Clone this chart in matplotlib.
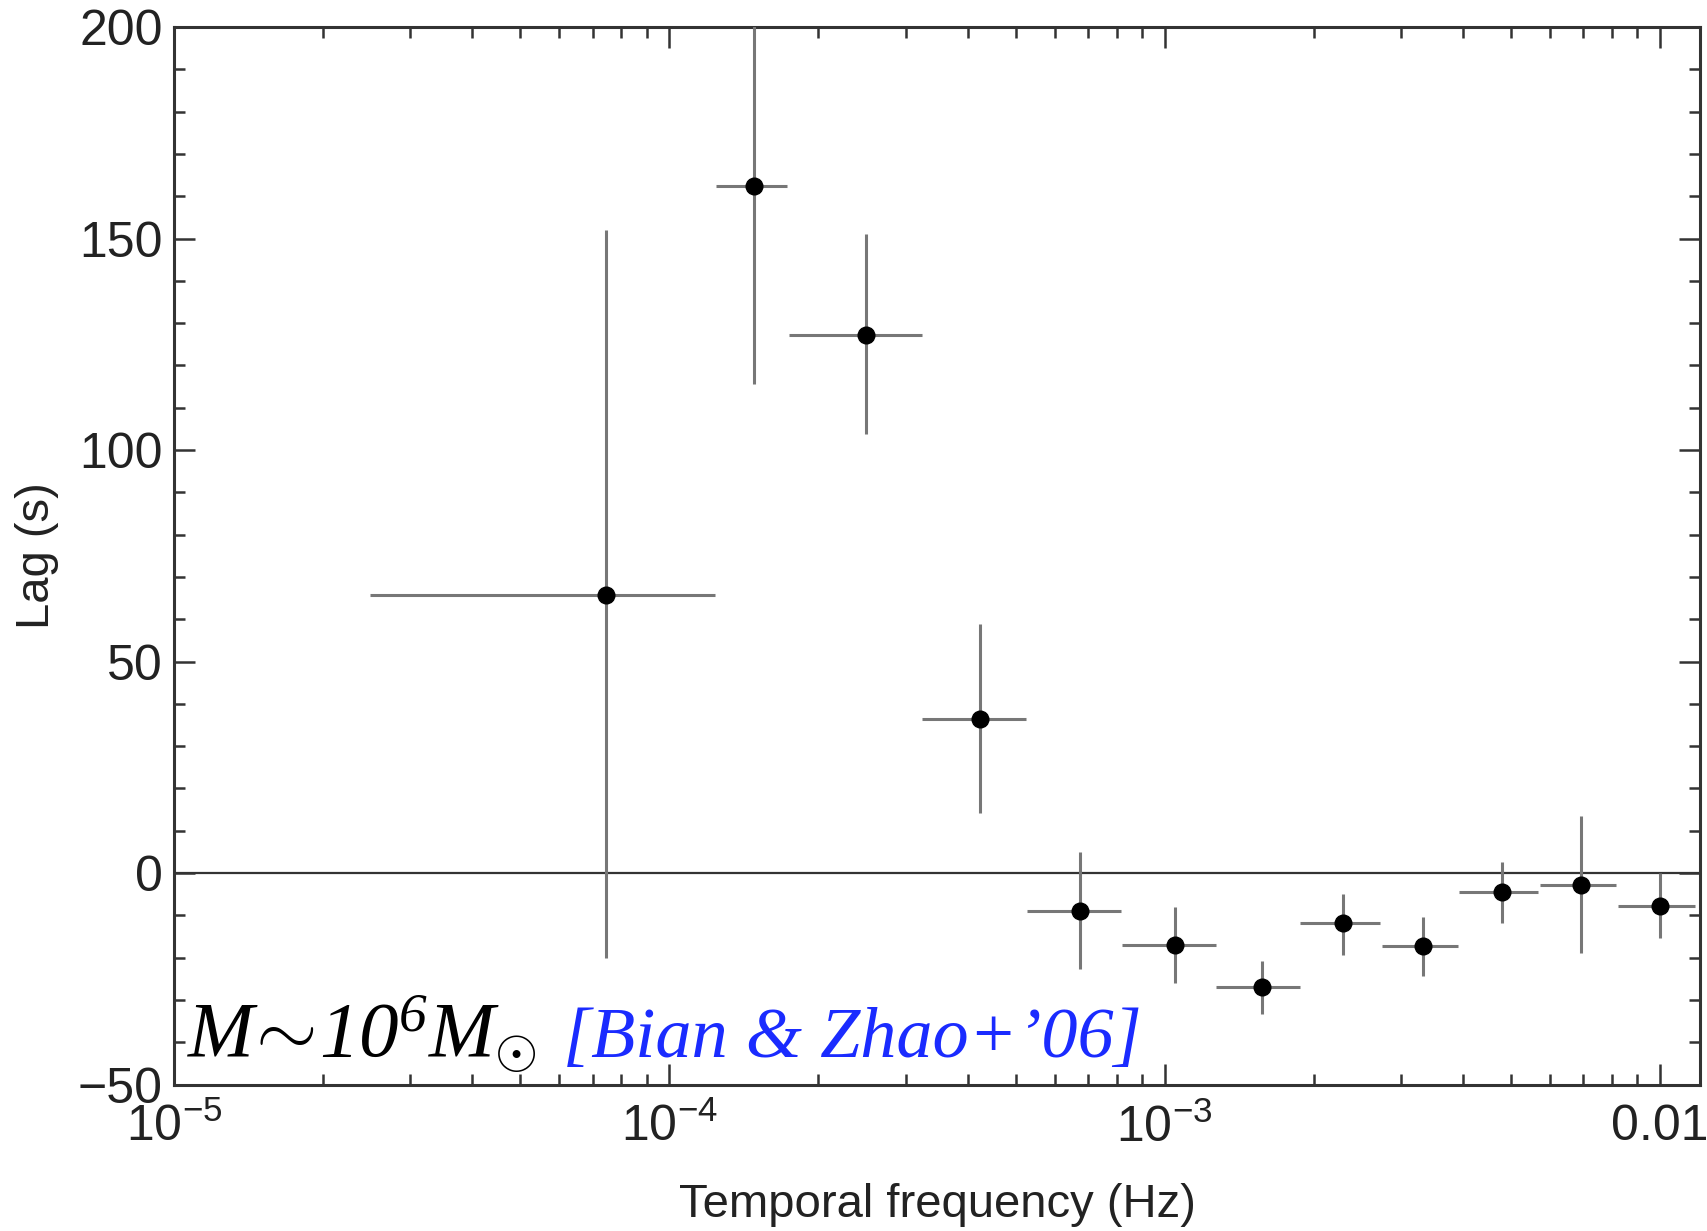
import matplotlib
matplotlib.use("Agg")
import matplotlib.pyplot as plt
import numpy as np
from matplotlib.ticker import LogLocator, MultipleLocator, FixedLocator, NullFormatter

plt.rcParams['font.family'] = ['Liberation Sans', 'DejaVu Sans']
plt.rcParams['mathtext.fontset'] = 'custom'
plt.rcParams['mathtext.rm'] = 'Liberation Serif:italic'
plt.rcParams['mathtext.it'] = 'Liberation Serif:italic'
plt.rcParams['mathtext.sf'] = 'Liberation Sans'

# frequency bins (Hz) and lags (s)
freq = [7.46e-5, 1.48e-4, 2.49e-4, 4.23e-4, 6.75e-4, 1.047e-3,
        1.57e-3, 2.29e-3, 3.32e-3, 4.80e-3, 6.92e-3, 1.0e-2]
f_lo = [2.49e-5, 1.24e-4, 1.74e-4, 3.24e-4, 5.27e-4, 8.2e-4,
        1.27e-3, 1.88e-3, 2.75e-3, 3.93e-3, 5.73e-3, 8.23e-3]
f_hi = [1.236e-4, 1.73e-4, 3.24e-4, 5.24e-4, 8.17e-4, 1.268e-3,
        1.876e-3, 2.72e-3, 3.92e-3, 5.68e-3, 8.17e-3, 1.175e-2]
lag = [65.8, 162.5, 127.3, 36.5, -9.0, -17.0,
       -27.0, -11.8, -17.2, -4.6, -2.8, -7.7]
lag_lo = [-20.0, 115.7, 103.9, 14.1, -22.6, -26.0,
          -33.4, -19.3, -24.4, -11.8, -18.8, -15.4]
lag_hi = [152.0, 215.0, 151.0, 58.9, 4.9, -8.0,
          -20.8, -4.9, -10.3, 2.6, 13.4, 0.0]

freq = np.array(freq)
lag = np.array(lag)
xerr = [freq - np.array(f_lo), np.array(f_hi) - freq]
yerr = [lag - np.array(lag_lo), np.array(lag_hi) - lag]

fig = plt.figure(figsize=(17.07, 12.31), dpi=100)
ax = fig.add_axes([0.102, 0.119, 0.894, 0.859])

ax.axhline(0, color='#333333', lw=1.6, zorder=1)
ax.errorbar(freq, lag, xerr=xerr, yerr=yerr, fmt='o', color='black',
            ms=12, ecolor='#777777', elinewidth=2.2, capsize=0, zorder=3)

ax.set_xscale('log')
ax.set_xlim(1e-5, 1.206e-2)
ax.set_ylim(-50, 200)

ax.xaxis.set_major_locator(FixedLocator([1e-5, 1e-4, 1e-3, 1e-2]))
ax.set_xticklabels([r'$\mathsf{10^{-5}}$', r'$\mathsf{10^{-4}}$',
                    r'$\mathsf{10^{-3}}$', '0.01'])
ax.xaxis.set_minor_locator(LogLocator(base=10, subs=np.arange(2, 10)))
ax.xaxis.set_minor_formatter(NullFormatter())
ax.yaxis.set_major_locator(MultipleLocator(50))
ax.yaxis.set_minor_locator(MultipleLocator(10))

ax.tick_params(which='both', direction='in', top=True, right=True,
               color='#333333', width=1.8)
ax.tick_params(which='major', length=15, labelsize=36, labelcolor='#222222')
ax.tick_params(axis='x', which='major', pad=14)
ax.tick_params(axis='y', which='major', pad=8)
ax.tick_params(which='minor', length=8)
for s in ax.spines.values():
    s.set_linewidth(2.2)
    s.set_color('#333333')

ax.set_xlabel('Temporal frequency (Hz)', fontsize=34, color='#222222', labelpad=22)
ax.set_ylabel('Lag (s)', fontsize=34, color='#222222', labelpad=14)

ax.text(1.06e-5, -43.5, r'$M\!\sim\!10^{6}M_{\odot}$', fontsize=57,
        color='black', va='baseline', ha='left')
ax.text(6.1e-5, -43.5, '[Bian & Zhao+\u201906]', fontsize=52, color='#1a2bff',
        family='Liberation Serif', style='italic', va='baseline', ha='left')

fig.savefig('out.png', dpi=100)
